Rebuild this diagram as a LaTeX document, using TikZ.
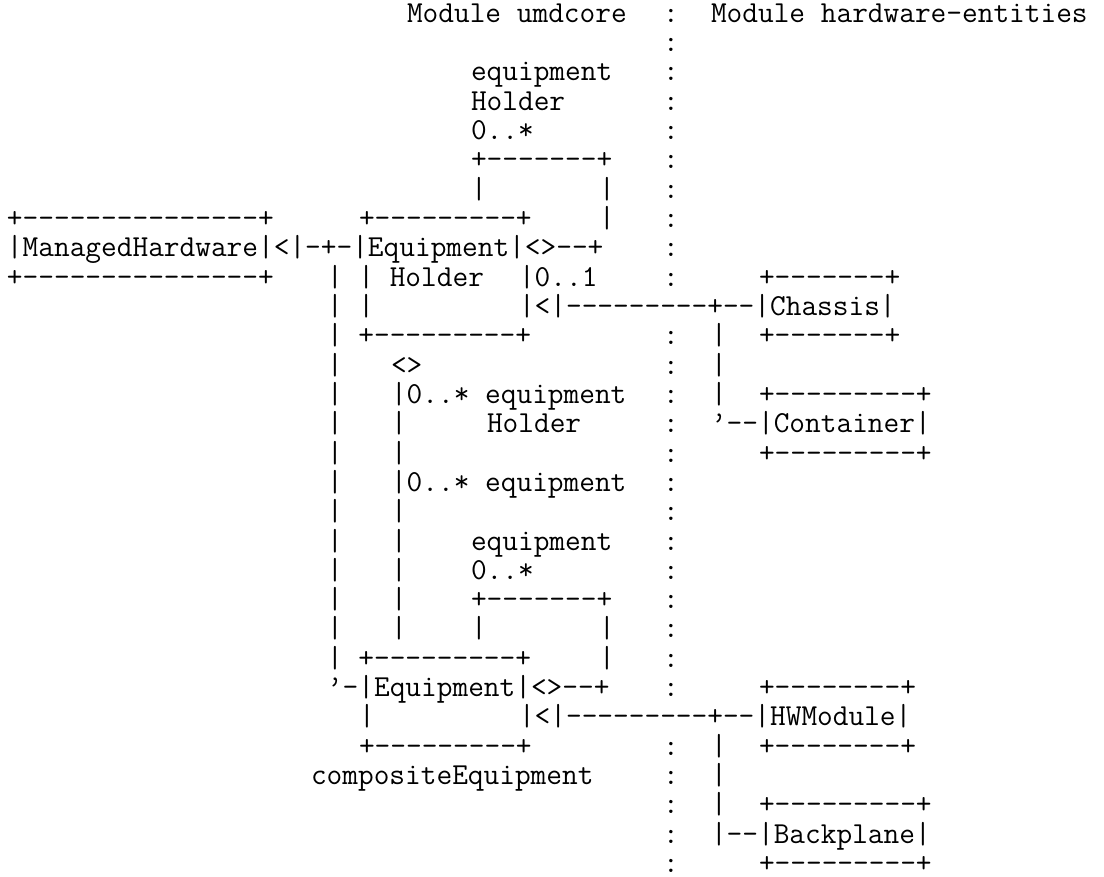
\documentclass[tikz,border=0pt]{standalone}
\usepackage{fontspec}
\setmonofont{Latin Modern Mono}
\tikzset{
  asc/.style={anchor=base west, inner sep=0pt, outer sep=0pt,
    font=\ttfamily\fontsize{22.857pt}{24pt}\selectfont, text=black}
}
% row, column, text
\newcommand\seg[3]{\node[asc] (r#1c#2) at ({5.25pt+#2*12pt},{-16.7pt-(#1-1)*21.99pt}) {#3};}
\begin{document}
\begin{tikzpicture}
\useasboundingbox (0,0) rectangle (828pt,-657pt);
\seg{1}{25}{Module umdcore}\seg{1}{41}{:}\seg{1}{44}{Module hardware-entities}
\seg{2}{41}{:}
\seg{3}{29}{equipment}\seg{3}{41}{:}
\seg{4}{29}{Holder}\seg{4}{41}{:}
\seg{5}{29}{0..*}\seg{5}{41}{:}
\seg{6}{29}{+-------+}\seg{6}{41}{:}
\seg{7}{29}{|}\seg{7}{37}{|}\seg{7}{41}{:}
\seg{8}{0}{+---------------+}\seg{8}{22}{+---------+}\seg{8}{37}{|}\seg{8}{41}{:}
\seg{9}{0}{|ManagedHardware|<|-+-|Equipment|<>--+}\seg{9}{41}{:}
\seg{10}{0}{+---------------+}\seg{10}{20}{| | Holder}\seg{10}{32}{|0..1}\seg{10}{41}{:}\seg{10}{47}{+-------+}
\seg{11}{20}{| |}\seg{11}{32}{|<|---------+--|Chassis|}
\seg{12}{20}{| +---------+}\seg{12}{41}{:}\seg{12}{44}{|}\seg{12}{47}{+-------+}
\seg{13}{20}{|}\seg{13}{24}{<>}\seg{13}{41}{:}\seg{13}{44}{|}
\seg{14}{20}{|}\seg{14}{24}{|0..* equipment}\seg{14}{41}{:}\seg{14}{44}{|}\seg{14}{47}{+---------+}
\seg{15}{20}{|}\seg{15}{24}{|}\seg{15}{30}{Holder}\seg{15}{41}{:}\seg{15}{44}{’--|Container|}
\seg{16}{20}{|}\seg{16}{24}{|}\seg{16}{41}{:}\seg{16}{47}{+---------+}
\seg{17}{20}{|}\seg{17}{24}{|0..* equipment}\seg{17}{41}{:}
\seg{18}{20}{|}\seg{18}{24}{|}\seg{18}{41}{:}
\seg{19}{20}{|}\seg{19}{24}{|}\seg{19}{29}{equipment}\seg{19}{41}{:}
\seg{20}{20}{|}\seg{20}{24}{|}\seg{20}{29}{0..*}\seg{20}{41}{:}
\seg{21}{20}{|}\seg{21}{24}{|}\seg{21}{29}{+-------+}\seg{21}{41}{:}
\seg{22}{20}{|}\seg{22}{24}{|}\seg{22}{29}{|}\seg{22}{37}{|}\seg{22}{41}{:}
\seg{23}{20}{| +---------+}\seg{23}{37}{|}\seg{23}{41}{:}
\seg{24}{20}{’-|Equipment|<>--+}\seg{24}{41}{:}\seg{24}{47}{+--------+}
\seg{25}{22}{|}\seg{25}{32}{|<|---------+--|HWModule|}
\seg{26}{22}{+---------+}\seg{26}{41}{:}\seg{26}{44}{|}\seg{26}{47}{+--------+}
\seg{27}{19}{compositeEquipment}\seg{27}{41}{:}\seg{27}{44}{|}
\seg{28}{41}{:}\seg{28}{44}{|}\seg{28}{47}{+---------+}
\seg{29}{41}{:}\seg{29}{44}{|--|Backplane|}
\seg{30}{41}{:}\seg{30}{47}{+---------+}
\end{tikzpicture}
\end{document}
